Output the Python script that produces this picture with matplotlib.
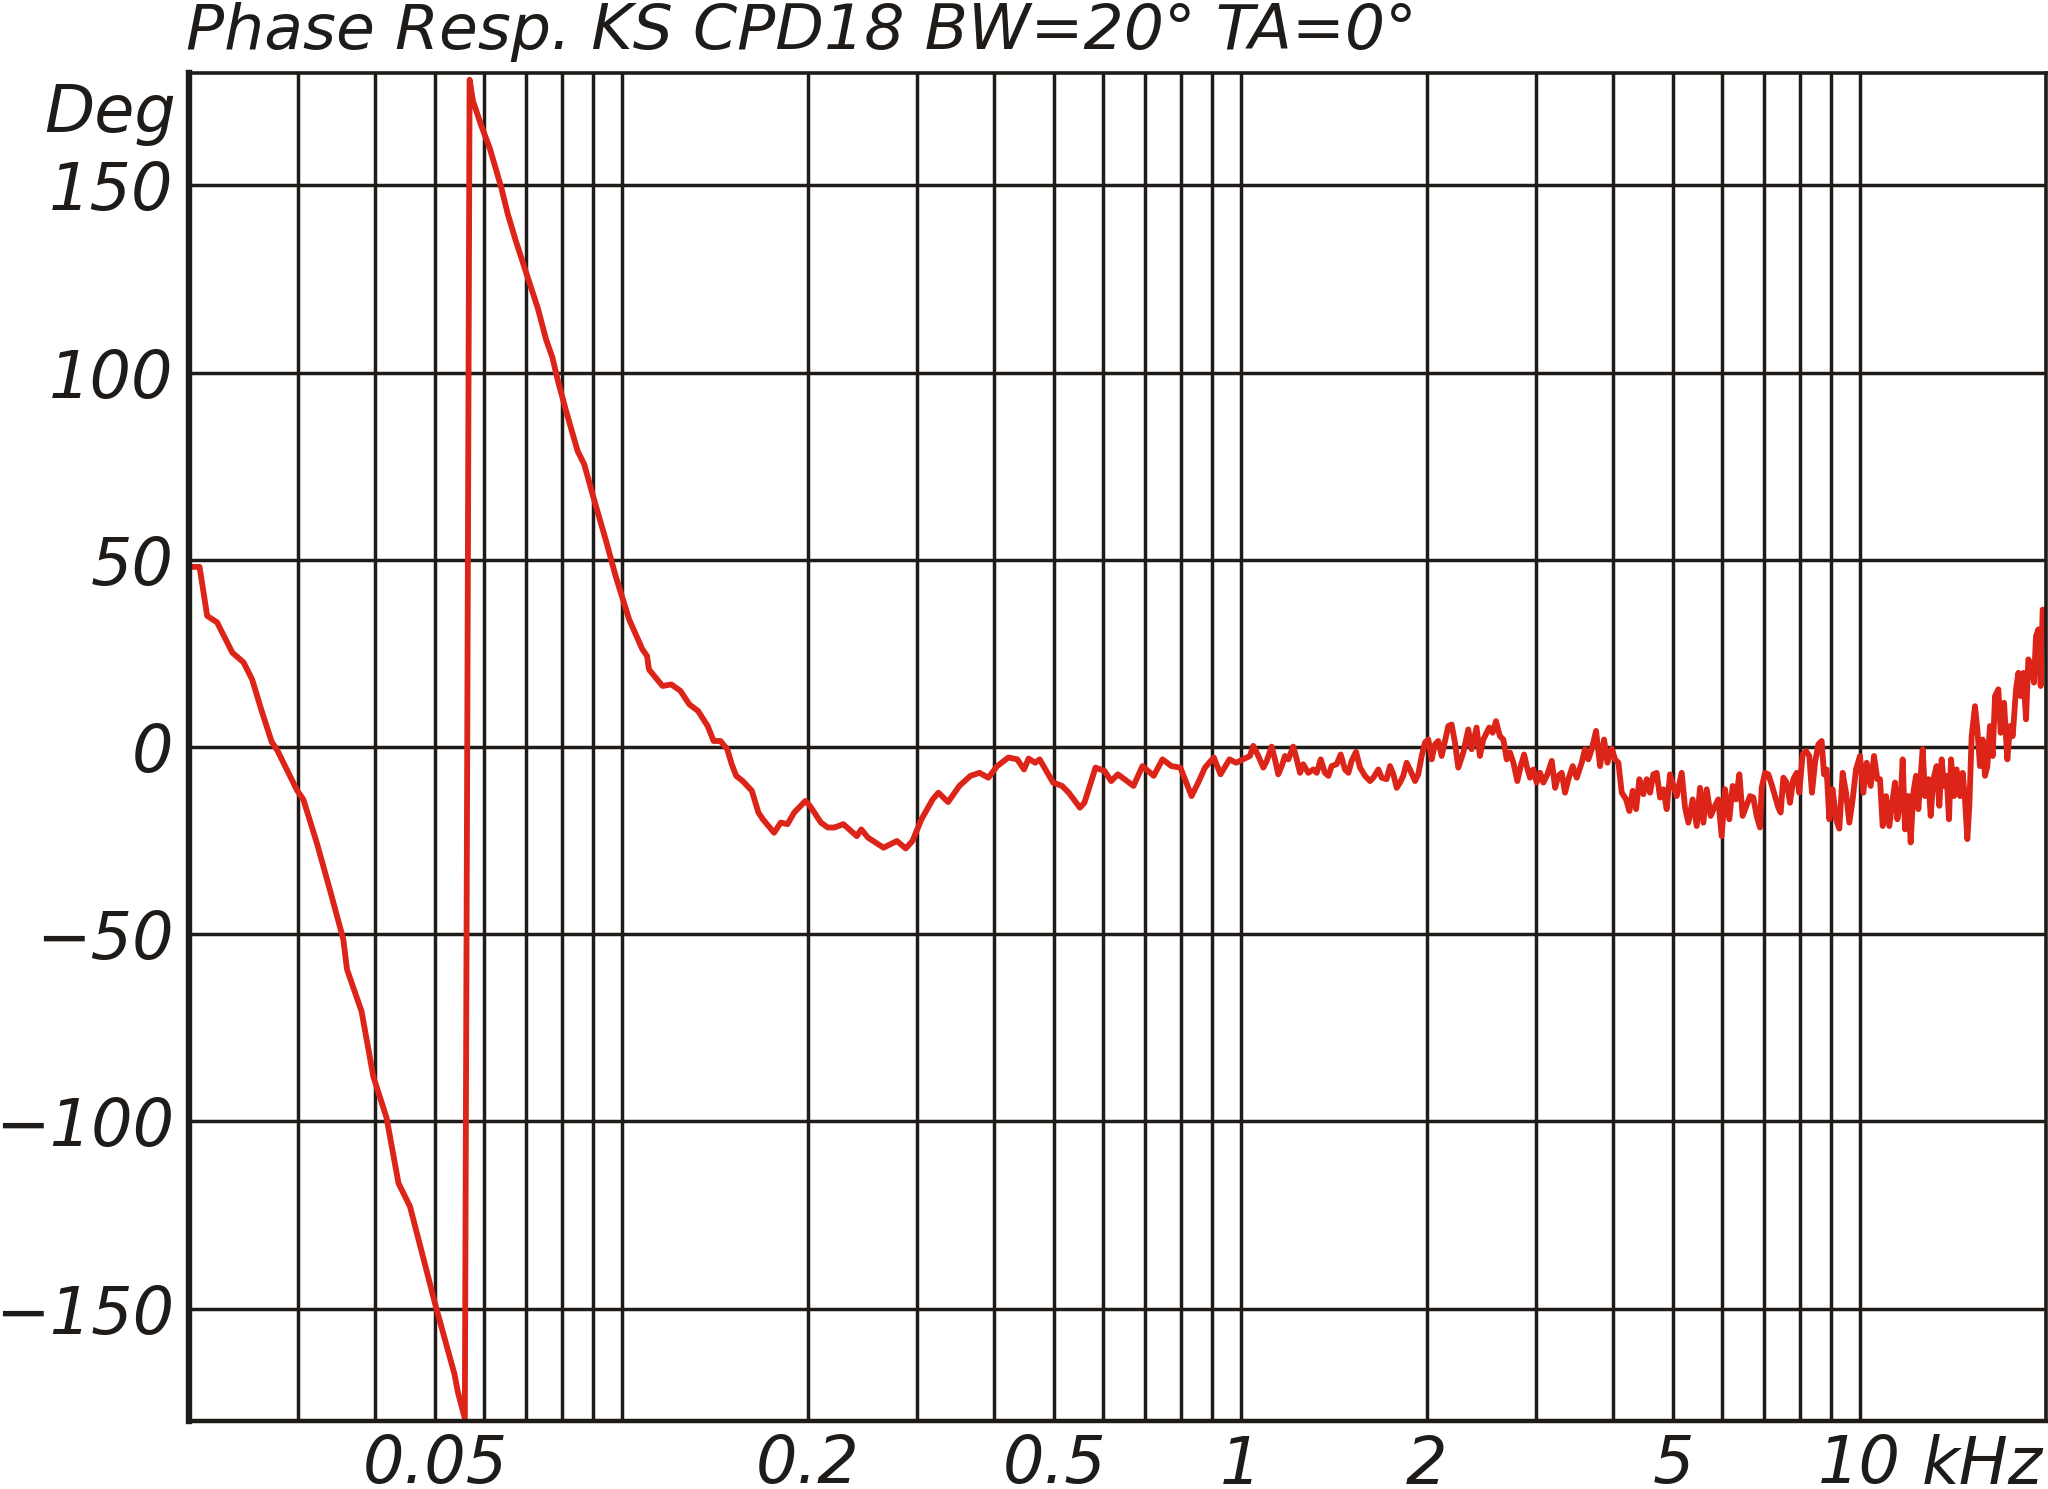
import matplotlib
matplotlib.use("Agg")
import matplotlib.pyplot as plt
from matplotlib.ticker import NullFormatter
import numpy as np

# Phase response (frequency in kHz, phase in degrees)
# 20 Hz .. wrap point at -180
freq_low = [0.0200, 0.0208, 0.0214, 0.0222, 0.0235, 0.0245, 0.0253, 0.0262,
            0.0272, 0.0278, 0.0299, 0.0306, 0.0322, 0.0338, 0.0355, 0.0360,
            0.0380, 0.0397, 0.0417, 0.0436, 0.0455, 0.0478, 0.0502, 0.0537,
            0.0544, 0.0558]
phase_low = [48.1, 48.1, 35.0, 33.3, 25.2, 22.6, 18.0, 9.7,
             1.4, -1.0, -11.6, -14.0, -25.8, -38.3, -51.3, -59.4,
             -70.6, -88.0, -99.0, -116.5, -122.7, -136.4, -150.0, -167.5,
             -172.4, -179.3]

# wrap at +180 .. 1 kHz
freq_mid = [0.0568, 0.0575, 0.0593, 0.0612, 0.0639, 0.0655, 0.0675, 0.0701,
            0.0732, 0.0755, 0.0773, 0.0788, 0.0813, 0.0849, 0.0870, 0.0903,
            0.0943, 0.0978, 0.1028, 0.1080, 0.1099, 0.1107, 0.1164, 0.1203,
            0.1244, 0.1286, 0.1329, 0.1377, 0.1408, 0.1444, 0.1481, 0.1506,
            0.1531, 0.1569, 0.1623, 0.1663, 0.1691, 0.1763, 0.1807, 0.1853,
            0.1900, 0.1981, 0.2014, 0.2099, 0.2152, 0.2206, 0.2281, 0.2398,
            0.2438, 0.2500, 0.2649, 0.2784, 0.2877, 0.2950, 0.3050, 0.3180,
            0.3249, 0.3368, 0.3512, 0.3660, 0.3784, 0.3911, 0.4043, 0.4215,
            0.4357, 0.4467, 0.4543, 0.4657, 0.4734, 0.4977, 0.5146, 0.5275,
            0.5499, 0.5592, 0.5828, 0.6026, 0.6177, 0.6333, 0.6713, 0.6939,
            0.7235, 0.7477, 0.7729, 0.7991, 0.8330, 0.8540, 0.8756, 0.9049,
            0.9278, 0.9593, 0.9835]
phase_mid = [178.2, 172.6, 166.0, 160.0, 149.4, 142.2, 135.0, 126.7,
             117.2, 108.8, 104.0, 98.1, 89.8, 79.0, 75.5, 65.9,
             55.2, 45.6, 34.1, 26.1, 24.3, 20.7, 16.3, 16.7,
             15.0, 11.4, 9.6, 5.6, 1.6, 1.6, -0.6, -4.6,
             -7.7, -9.1, -11.7, -17.5, -19.3, -22.9, -20.2, -20.6,
             -17.5, -14.4, -15.7, -20.2, -21.5, -21.5, -20.6, -23.8,
             -22.0, -24.2, -26.9, -25.1, -27.1, -25.1, -19.3, -14.0,
             -12.2, -14.7, -10.4, -7.7, -6.9, -8.2, -5.1, -2.8,
             -3.3, -6.0, -3.1, -4.2, -3.3, -9.5, -10.4, -12.2,
             -16.2, -14.9, -5.5, -6.4, -9.1, -7.3, -10.4, -5.1,
             -7.7, -3.3, -5.1, -5.5, -13.1, -9.5, -5.5, -2.8,
             -7.3, -3.3, -4.2]

# 1 kHz .. 20 kHz (noisy part)
freq_high = [1.035, 1.048, 1.068, 1.088, 1.102, 1.122, 1.136, 1.150,
             1.165, 1.179, 1.194, 1.216, 1.232, 1.247, 1.262, 1.286,
             1.310, 1.327, 1.347, 1.368, 1.386, 1.403, 1.429, 1.451,
             1.474, 1.493, 1.511, 1.536, 1.559, 1.588, 1.618, 1.638,
             1.669, 1.690, 1.721, 1.743, 1.765, 1.787, 1.809, 1.831,
             1.854, 1.877, 1.913, 1.936, 1.961, 1.985, 2.010, 2.035,
             2.060, 2.086, 2.112, 2.138, 2.165, 2.192, 2.219, 2.247,
             2.289, 2.332, 2.361, 2.405, 2.435, 2.466, 2.521, 2.553,
             2.585, 2.623,
             2.657, 2.690, 2.724, 2.758, 2.799, 2.834, 2.870, 2.898,
             2.934, 2.971, 3.008, 3.046, 3.084, 3.130, 3.181, 3.221,
             3.260, 3.301, 3.342, 3.384, 3.439, 3.491, 3.556, 3.600,
             3.645, 3.691, 3.751, 3.807, 3.864, 3.913, 3.976, 4.026,
             4.076, 4.127, 4.194, 4.246, 4.299, 4.353, 4.407, 4.473,
             4.529, 4.585, 4.642, 4.700, 4.759, 4.818, 4.878, 4.939,
             5.001, 5.063, 5.158, 5.223, 5.288, 5.373, 5.454, 5.522,
             5.591, 5.661, 5.746, 5.839, 5.911, 5.985, 6.060, 6.158,
             6.235, 6.313, 6.392, 6.471,
             6.650, 6.733, 6.817, 6.902, 6.945, 7.032, 7.119, 7.208,
             7.298, 7.389, 7.453, 7.528, 7.622, 7.717, 7.813, 7.911,
             7.988, 8.088, 8.189, 8.292, 8.374, 8.469, 8.575, 8.682,
             8.757, 8.845, 8.932, 9.044, 9.157, 9.271, 9.387, 9.504,
             9.623, 9.743, 9.865, 10.012, 10.137, 10.264, 10.418, 10.548,
             10.680,
             10.786, 10.894, 11.030, 11.167, 11.306, 11.405, 11.505, 11.648,
             11.735, 11.837, 11.984, 12.089, 12.210, 12.332, 12.440, 12.548,
             12.642, 12.752, 12.912, 13.024, 13.153, 13.316, 13.449, 13.567,
             13.685, 13.821, 13.942, 14.047, 14.204, 14.345, 14.524, 14.669,
             14.797, 14.926, 15.038, 15.168, 15.358, 15.492, 15.646, 15.803,
             15.940, 16.080, 16.239, 16.401, 16.545, 16.752, 16.897, 17.109,
             17.322, 17.496, 17.670, 17.890, 18.046, 18.204, 18.384, 18.567,
             18.729, 18.962, 19.127, 19.270, 19.437, 19.607, 19.754, 19.925]
phase_high = [-2.4, 0.3, -2.4, -5.5, -3.7, 0.1, -3.3, -7.3,
              -5.1, -2.4, -3.3, 0.1, -3.3, -6.9, -4.6, -6.9,
              -6.0, -6.9, -3.3, -6.9, -7.7, -5.1, -4.6, -2.0,
              -6.0, -6.9, -3.7, -1.3, -5.5, -7.7, -9.1, -8.2,
              -6.0, -8.2, -8.6, -5.1, -7.3, -10.9, -9.5, -7.7,
              -4.2, -6.0, -9.1, -7.3, -2.4, 1.2, 2.0, -3.3,
              0.7, 1.6, -2.4, 1.6, 5.6, 6.0, 1.2, -5.5,
              -1.5, 4.7, -0.6, 5.2, -2.4, 2.0, 5.2, 3.8,
              6.9, 2.9,
              2.0, -3.3, -1.5, -4.2, -9.1, -5.1, -2.0, -5.1,
              -8.2, -6.0, -9.5, -6.9, -9.5, -7.3, -3.7, -10.9,
              -7.7, -6.9, -12.2, -8.6, -5.1, -8.2, -4.2, -0.6,
              -3.3, -0.6, 4.3, -5.1, 2.0, -4.2, -0.4, -3.3,
              -4.2, -12.2, -14.0, -17.1, -11.7, -16.6, -8.6, -12.6,
              -8.6, -12.2, -7.3, -6.9, -13.5, -11.3, -16.6, -7.3,
              -10.4, -13.1, -6.9, -16.2, -20.2, -14.0, -21.1, -10.9,
              -20.2, -11.3, -18.4, -15.7, -14.0, -23.8, -11.3, -19.3,
              -10.4, -14.0, -7.3, -18.4,
              -13.1, -13.5, -18.4, -21.5, -10.9, -6.9, -7.3, -10.0,
              -13.1, -16.2, -17.5, -8.2, -9.5, -14.9, -8.6, -6.9,
              -12.2, -2.0, -1.1, -2.4, -12.2, -4.2, 0.7, 1.6,
              -7.3, -6.0, -19.3, -11.3, -19.3, -21.8, -6.9, -12.2,
              -20.2, -14.0, -6.0, -2.4, -12.2, -4.2, -10.4, -2.4,
              -8.6,
              -8.6, -21.1, -13.1, -21.1, -14.0, -9.5, -19.3, -14.0,
              -3.3, -22.0, -13.1, -25.5, -12.2, -7.7, -16.6, -7.7,
              -0.6, -13.1, -8.6, -18.4, -8.6, -5.1, -15.7, -3.3,
              -10.4, -7.7, -19.3, -3.3, -13.1, -6.0, -13.1, -6.9,
              -14.0, -24.6, -15.7, 2.9, 10.9, 4.7, -5.1, 2.0,
              -7.7, -5.1, 5.6, -2.4, 13.6, 15.4, 3.8, 11.8,
              -3.3, 5.6, 2.9, 15.4, 19.8, 13.6, 19.8, 7.4,
              23.4, 21.6, 17.2, 29.6, 31.4, 16.3, 36.7, 35.0]

x_ticks = [0.05, 0.2, 0.5, 1, 2, 5, 10]
x_tick_labels = ["0.05", "0.2", "0.5", "1", "2", "5", "10"]
x_grid_minor = [0.03, 0.04, 0.06, 0.07, 0.08, 0.09, 0.1,
                0.3, 0.4, 0.6, 0.7, 0.8, 0.9,
                3, 4, 6, 7, 8, 9]
y_ticks = [-150, -100, -50, 0, 50, 100, 150]
y_tick_labels = ["\u2212150", "\u2212100", "\u221250", "0", "50", "100", "150"]

title = "Phase Resp. KS CPD18 BW=20\u00b0 TA=0\u00b0"

INK = "#1e1b18"
RED = "#dc2419"
W, H = 2048, 1489

plt.rcParams['font.family'] = ['DejaVu Sans']
plt.rcParams['font.style'] = 'oblique'

freq = np.array(freq_low + freq_mid + freq_high)
phase = np.array(phase_low + phase_mid + phase_high)

fig = plt.figure(figsize=(W / 100, H / 100), dpi=100)
ax = fig.add_axes([189 / W, 1 - 1421 / H, (2046 - 189) / W, (1421 - 73) / H])

ax.plot(freq, phase, color=RED, lw=4.2, solid_joinstyle='round', zorder=3)

ax.set_xscale('log')
ax.set_xlim(0.02, 20)
ax.set_ylim(-180, 180)
ax.set_xticks(x_ticks)
ax.set_xticklabels(x_tick_labels)
ax.set_xticks(x_grid_minor, minor=True)
ax.xaxis.set_minor_formatter(NullFormatter())
ax.set_yticks(y_ticks)
ax.set_yticklabels(y_tick_labels)

ax.set_axisbelow(True)
ax.grid(True, which='both', axis='x', color=INK, lw=2.5)
ax.grid(True, which='major', axis='y', color=INK, lw=2.5)
ax.tick_params(axis='both', which='both', length=0, labelsize=47, colors=INK)
ax.tick_params(axis='x', pad=9)
ax.tick_params(axis='y', pad=11)

spine_width = {'left': 4.6, 'bottom': 3.2, 'top': 2.6, 'right': 2.6}
for side, sp in ax.spines.items():
    sp.set_color(INK)
    sp.set_linewidth(spine_width[side])
    sp.set_zorder(4)

ax.annotate("Deg", xy=(0, (1421 - 132) / 1348), xycoords='axes fraction',
            xytext=(-9, 0), textcoords='offset points',
            ha='right', va='baseline', fontsize=47, color=INK)
ax.annotate("kHz", xy=(12.6, 0), xycoords=('data', 'axes fraction'),
            xytext=(0, -9), textcoords='offset points',
            ha='left', va='top', fontsize=47, color=INK)

fig.text(186 / W, 1 - 49 / H, title, fontsize=45.5, color=INK,
         ha='left', va='baseline')

fig.savefig("out.png", dpi=100)
